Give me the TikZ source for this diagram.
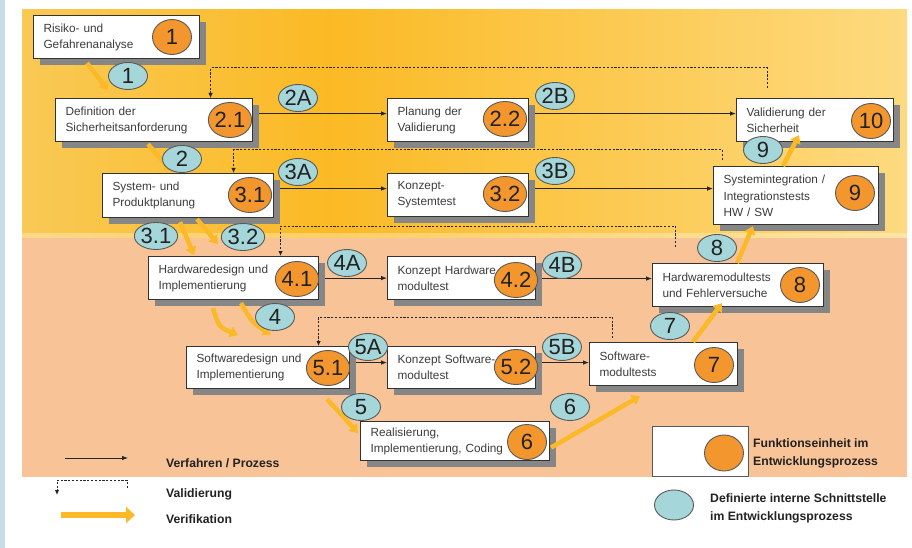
\documentclass[tikz,border=0pt]{standalone}
\usepackage{fontspec}
\setmainfont{Liberation Sans}
\usetikzlibrary{arrows.meta,shadows,shapes.geometric,calc}

\definecolor{strip}{HTML}{C8DCE8}
\definecolor{yelA}{HTML}{F9C955}
\definecolor{yelB}{HTML}{FBBA25}
\definecolor{yelC}{HTML}{FDDA80}
\definecolor{peach}{HTML}{F8C397}
\definecolor{boxline}{HTML}{333333}
\definecolor{shadowgray}{HTML}{868686}
\definecolor{funcorange}{HTML}{F2962D}
\definecolor{ifaceblue}{HTML}{A5D6D9}
\definecolor{ringline}{HTML}{5A5A5A}
\definecolor{boxtext}{HTML}{3C3C3C}
\definecolor{legtext}{HTML}{222222}
\definecolor{verif}{HTML}{FBB928}

\newcommand\boxfont{\fontsize{11.8}{16}\selectfont}
\newcommand\numfont{\fontsize{22}{22}\selectfont}
\newcommand\legfont{\fontsize{12.2}{18}\selectfont\bfseries}

% unit box: name, x, y (north west), width, height, text
\newcommand\unitbox[6]{%
  \pgfmathsetmacro\unittw{#4-20}%
  \node[unit, minimum width=#4pt, minimum height=#5pt, text width=\unittw pt] (#1) at (#2,#3) {#6};}

% bands at the very back, flow lines between bands and boxes
\pgfdeclarelayer{bands}
\pgfdeclarelayer{links}
\pgfsetlayers{bands,links,main}

\begin{document}
\begin{tikzpicture}[x=1pt,y=-1pt,
  unit/.style={rectangle, draw=boxline, line width=1.1pt, fill=white, anchor=north west,
    inner xsep=10pt, inner ysep=0pt, align=left, font=\boxfont, text=boxtext,
    drop shadow={shadow xshift=6pt, shadow yshift=-6pt, fill=shadowgray, opacity=1}},
  func/.style={ellipse, draw=ringline, line width=0.9pt, fill=funcorange,
    minimum width=39pt, minimum height=35pt, inner sep=0pt, font=\numfont, text=legtext},
  iface/.style={ellipse, draw=ringline, line width=0.9pt, fill=ifaceblue,
    minimum width=39pt, minimum height=27pt, inner sep=0pt, font=\numfont, text=legtext},
  proc/.style={draw=black!85, line width=0.8pt, -{Latex[length=6pt,width=4.5pt]}},
  valid/.style={draw=black!85, line width=1pt, dash pattern=on 2.2pt off 1.6pt,
    -{Latex[length=5pt,width=4.5pt]}},
  verifarrow/.style={draw=verif, line width=4.5pt, -{Triangle[length=8pt,width=11pt]}},
  legend/.style={anchor=west, align=left, font=\legfont, text=legtext, inner sep=0pt}]

\useasboundingbox (0,0) rectangle (912,548);

% background bands
\begin{pgfonlayer}{bands}
\fill[white] (0,0) rectangle (912,548);
\fill[strip] (0,0) rectangle (5,548);
\shade[left color=yelA, right color=yelB] (22,10) rectangle (330,238);
\shade[left color=yelB, right color=yelC] (330,10) rectangle (907,238);
\fill[white, opacity=0.3] (22,233) rectangle (907,238);
\fill[peach] (22,238) rectangle (907,477);
\end{pgfonlayer}

% function units
\unitbox{b1}{33}{15}{166}{43}{Risiko- und\\Gefahrenanalyse}
\unitbox{b21}{55}{98}{197}{43}{Definition der\\Sicherheitsanforderung}
\unitbox{b22}{387}{98}{141}{43}{Planung der\\Validierung}
\unitbox{b10}{736}{98}{157}{43}{Validierung der\\Sicherheit}
\unitbox{b31}{102}{173}{171}{44}{System- und\\Produktplanung}
\unitbox{b32}{387}{173}{141}{43}{Konzept-\\Systemtest}
\unitbox{b9}{713}{166}{165}{58}{\baselineskip=17.5pt Systemintegration /\\Integrationstests\\HW / SW}
\unitbox{b41}{148}{256}{170}{43}{Hardwaredesign und\\Implementierung}
\unitbox{b42}{387}{256}{148}{43}{Konzept Hardware\\modultest}
\unitbox{b8}{652}{263}{171}{43}{Hardwaremodultests\\und Fehlerversuche}
\unitbox{b51}{186}{346}{163}{42}{Softwaredesign und\\Implementierung}
\unitbox{b52}{387}{346}{148}{42}{Konzept Software-\\modultest}
\unitbox{b7}{589}{342}{148}{43}{Software-\\modultests}
\unitbox{b6}{360}{421}{189}{39}{Realisierung,\\Implementierung, Coding}

\begin{pgfonlayer}{links}
% process flow
\draw[proc] ([yshift=6.5pt]b21.east) -- ([yshift=6.5pt]b22.west);
\draw[proc] ([yshift=6.5pt]b22.east) -- ([yshift=6.5pt]b10.west);
\draw[proc] ([yshift=7pt]b31.east) -- ([yshift=6.5pt]b32.west);
\draw[proc] ([yshift=6.5pt]b32.east) -- ([yshift=7pt]b9.west);
\draw[proc] (b41.east) -- (b42.west);
\draw[proc] ([yshift=-0.5pt]b42.east) -- ([yshift=6.5pt]b8.west);
\draw[proc] ([yshift=5pt]b51.east) -- ([yshift=5pt]b52.west);
\draw[proc] ([yshift=5pt]b52.east) -- ([yshift=1.5pt]b7.west);

% validation feedback
\draw[valid] ([xshift=-47.5pt,yshift=10pt]b10.north) -- ++(0,-20) -| ([xshift=56.5pt]b21.north);
\draw[valid] ([xshift=-73.5pt,yshift=6pt]b9.north) -- ++(0,-10) -| ([xshift=45.5pt]b31.north);
\draw[valid] ([xshift=-62.5pt,yshift=16pt]b8.north) -- ++(0,-21) -| ([xshift=47pt]b41.north);
\draw[valid] ([xshift=-51pt,yshift=4pt]b7.north) -- ++(0,-21) -| ([xshift=50.5pt]b51.north);
\end{pgfonlayer}

% function unit numbers
\node[func] (f1) at (172,37) {1};
\node[func] (f21) at (230,120) {2.1};
\node[func] (f22) at (505,119) {2.2};
\node[func] (f10) at (871,121) {10};
\node[func] (f31) at (250,195) {3.1};
\node[func] (f32) at (505,194) {3.2};
\node[func] (f9) at (855,193) {9};
\node[func] (f41) at (297,279) {4.1};
\node[func] (f42) at (516,280) {4.2};
\node[func] (f8) at (800,285) {8};
\node[func] (f51) at (328,368) {5.1};
\node[func] (f52) at (516,367) {5.2};
\node[func] (f7) at (714,365) {7};
\node[func] (f6) at (527,442) {6};

% verification
\draw[verifarrow] ($(b1.south west)+(54,4)$) -- ($(b21.north west)+(53,-8)$);
\draw[verifarrow] ($(b21.south west)+(93,2)$) -- ($(b31.north west)+(70,-1)$);
\draw[verifarrow] ($(b31.south west)+(78,4)$) -- ($(b41.north west)+(46,-1)$);
\draw[verifarrow] ($(b31.south west)+(95,1)$) -- ($(b41.north west)+(70,-12)$);
\draw[verifarrow] ($(b41.south west)+(65,8)$) .. controls ($(b41.south west)+(71,27)$) .. ($(b51.north west)+(52,-11)$);
\draw[verifarrow] ($(b41.south west)+(93,3)$) .. controls ($(b41.south west)+(104,22)$) .. ($(b51.north west)+(85,-11)$);
\draw[verifarrow] ($(b51.south west)+(141,10)$) -- ($(b6.north west)+(-2,12)$);
\draw[verifarrow] ($(b6.east)+(1,6.5)$) -- ($(b7.south west)+(51,10)$);
\draw[verifarrow] ($(b7.north west)+(104,0)$) -- ($(b8.south west)+(70,-4)$);
\draw[verifarrow] ($(b8.north west)+(85,0)$) -- ($(b9.south west)+(40,1)$);
\draw[verifarrow] ($(b9.north west)+(70,0)$) -- ($(b10.south west)+(63,-7)$);

% interfaces
\node[iface] (i1) at (128,76) {1};
\node[iface] (i2A) at (298,98) {2A};
\node[iface] (i2B) at (555,96) {2B};
\node[iface] (i2) at (182,159) {2};
\node[iface] (i3A) at (298,172) {3A};
\node[iface] (i3B) at (555,171) {3B};
\node[iface] (i9) at (763,150) {9};
\node[iface] (i31) at (156,236) {3.1};
\node[iface] (i32) at (243,237) {3.2};
\node[iface] (i4A) at (347,263) {4A};
\node[iface] (i4B) at (562,265) {4B};
\node[iface] (i8) at (717,248) {8};
\node[iface] (i4) at (275,317) {4};
\node[iface] (i7) at (670,326) {7};
\node[iface] (i5A) at (368,347) {5A};
\node[iface] (i5B) at (562,347) {5B};
\node[iface] (i5) at (361,407) {5};
\node[iface] (i6) at (570,407) {6};

% legend
\coordinate (lp1) at (65,458);
\coordinate (lp2) at (128,458);
\draw[proc] (lp1) -- (lp2);
\node[legend] (tproc) at (166,463) {Verfahren / Prozess};

\coordinate (lv1) at (127,488);
\coordinate (lv2) at (57,495);
\draw[valid] (lv1) -- ++(0,-8) -| (lv2);
\node[legend] (tvalid) at (166,494) {Validierung};

\coordinate (lf1) at (61,515);
\coordinate (lf2) at (135,515);
\draw[draw=verif, line width=6pt, -{Triangle[length=9pt,width=16pt]}] (lf1) -- (lf2);
\node[legend] (tverif) at (166,519) {Verifikation};

\node[rectangle, draw=ringline, line width=1pt, fill=white, anchor=north west,
  minimum width=96pt, minimum height=50pt] (lunit) at (652,426) {};
\node[func, minimum height=36pt] (lfunc) at (724,453) {};
\node[legend] (tfunc) at (753,453) {Funktionseinheit im\\Entwicklungsprozess};

\node[iface, minimum height=30pt] (liface) at (674,505) {};
\node[legend] (tiface) at (710,508) {Definierte interne Schnittstelle\\im Entwicklungsprozess};

\end{tikzpicture}
\end{document}
